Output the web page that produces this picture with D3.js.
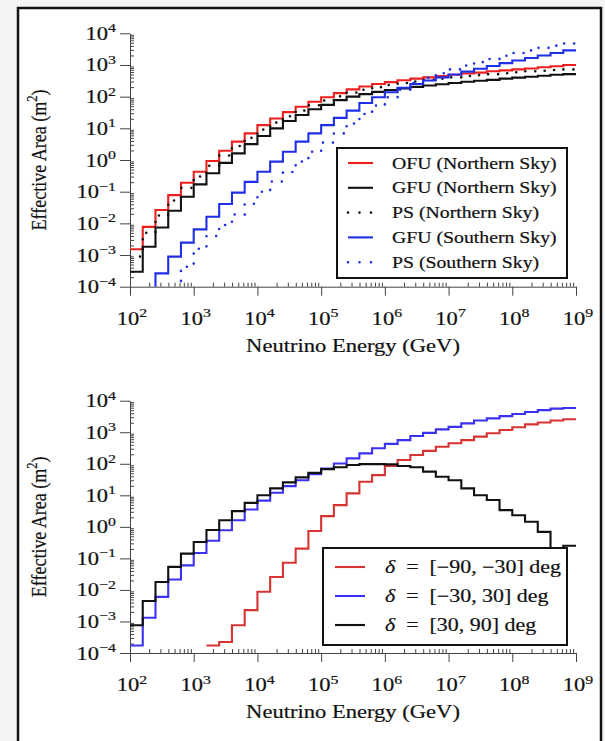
<!DOCTYPE html>
<html>
<head>
<meta charset="utf-8">
<script src="https://cdn.jsdelivr.net/npm/d3@7"></script>
<style>
  body { margin: 0; background: #f3f4f6; }
  text { font-family: "Liberation Serif", "Times New Roman", serif; fill: #111; stroke: #111; stroke-width: 0.2px; }
  .axis path, .axis line { stroke: #444; }
</style>
</head>
<body>
<div id="chart"></div>
<script>

// bin edges as log10(E / GeV), five bins per decade
var binEdgesExp = [2.0, 2.2, 2.4, 2.6, 2.8, 3.0, 3.2, 3.4, 3.6, 3.8,
  4.0, 4.2, 4.4, 4.6, 4.8, 5.0, 5.2, 5.4, 5.6, 5.8,
  6.0, 6.2, 6.4, 6.6, 6.8, 7.0, 7.2, 7.4, 7.6, 7.8,
  8.0, 8.2, 8.4, 8.6, 8.8, 9.0];

var xTickExp = [2, 3, 4, 5, 6, 7, 8, 9];
var yTickExp = [-4, -3, -2, -1, 0, 1, 2, 3, 4];

// upper panel, log10(A_eff / m^2) per bin (-5 = below the axis)
var ofuNorth = [-2.82, -2.11, -1.58, -1.11, -0.72, -0.37, -0.03, 0.29, 0.58, 0.84,
  1.10, 1.31, 1.51, 1.68, 1.84, 1.98, 2.11, 2.23, 2.32, 2.40,
  2.46, 2.52, 2.57, 2.61, 2.65, 2.69, 2.73, 2.76, 2.80, 2.83,
  2.86, 2.89, 2.93, 2.96, 3.00];
var gfuNorth = [-3.53, -2.74, -2.13, -1.60, -1.16, -0.77, -0.42, -0.09, 0.21, 0.50,
  0.76, 1.00, 1.23, 1.42, 1.60, 1.74, 1.89, 2.00, 2.08, 2.15,
  2.21, 2.26, 2.31, 2.35, 2.39, 2.43, 2.47, 2.50, 2.53, 2.57,
  2.60, 2.63, 2.66, 2.69, 2.71];
var psNorth = [-3.05, -2.30, -1.75, -1.28, -0.88, -0.52, -0.18, 0.14, 0.44, 0.70,
  0.96, 1.18, 1.38, 1.56, 1.73, 1.88, 2.01, 2.13, 2.22, 2.30,
  2.37, 2.43, 2.48, 2.53, 2.57, 2.61, 2.65, 2.68, 2.71, 2.74,
  2.77, 2.80, 2.82, 2.84, 2.86];
var gfuSouth = [-5, -5, -3.58, -3.05, -2.61, -2.19, -1.79, -1.39, -1.03, -0.69,
  -0.37, -0.05, 0.26, 0.58, 0.84, 1.10, 1.33, 1.56, 1.80, 1.98,
  2.14, 2.28, 2.40, 2.51, 2.61, 2.70, 2.79, 2.88, 2.97, 3.06,
  3.14, 3.22, 3.30, 3.38, 3.46];
var psSouth = [-5, -5, -5, -5, -3.37, -2.80, -2.40, -2.05, -1.72, -1.38,
  -1.00, -0.68, -0.38, -0.05, 0.26, 0.55, 0.84, 1.15, 1.45, 1.72,
  1.98, 2.22, 2.43, 2.60, 2.74, 2.86, 2.98, 3.09, 3.19, 3.29,
  3.38, 3.46, 3.54, 3.61, 3.68];

// lower panel, by declination band (null = empty bin)
var decSouth = [null, null, null, null, null, null, -3.76, -3.65, -3.12, -2.64,
  -2.06, -1.59, -1.14, -0.69, -0.13, 0.34, 0.69, 1.06, 1.43, 1.64,
  1.93, 2.12, 2.28, 2.41, 2.54, 2.65, 2.75, 2.86, 2.97, 3.07,
  3.16, 3.25, 3.31, 3.37, 3.41];
var decEquator = [-3.76, -2.88, -2.22, -1.67, -1.22, -0.83, -0.44, -0.11, 0.21, 0.55,
  0.83, 1.08, 1.29, 1.48, 1.67, 1.85, 2.01, 2.17, 2.33, 2.49,
  2.63, 2.75, 2.88, 2.98, 3.09, 3.17, 3.28, 3.37, 3.44, 3.51,
  3.58, 3.64, 3.70, 3.75, 3.77];
var decNorth = [-3.12, -2.35, -1.75, -1.27, -0.85, -0.48, -0.10, 0.21, 0.50, 0.76,
  1.00, 1.22, 1.41, 1.57, 1.71, 1.83, 1.89, 1.96, 1.99, 1.99,
  1.98, 1.93, 1.89, 1.75, 1.59, 1.48, 1.22, 1.00, 0.85, 0.53,
  0.37, 0.16, -0.16, -1.30, -0.60];

var topSeries = [
  {label: "OFU (Northern Sky)", values: ofuNorth, color: "#ee1f1f", dotted: false},
  {label: "GFU (Northern Sky)", values: gfuNorth, color: "#111111", dotted: false},
  {label: "PS (Northern Sky)", values: psNorth, color: "#111111", dotted: true},
  {label: "GFU (Southern Sky)", values: gfuSouth, color: "#1f2fe8", dotted: false},
  {label: "PS (Southern Sky)", values: psSouth, color: "#1f2fe8", dotted: true}
];
var bottomSeries = [
  {label: ["\u221290, \u221230"], values: decSouth, color: "#d63333", dotted: false},
  {label: ["\u221230, 30"], values: decEquator, color: "#3a32f0", dotted: false},
  {label: ["30, 90"], values: decNorth, color: "#111111", dotted: false}
];

var SX = 1.22; // the source picture is stretched sideways, text follows it

var svg = d3.select("#chart").append("svg")
  .attr("width", 605).attr("height", 741);

svg.append("rect")
  .attr("x", 18).attr("y", 8).attr("width", 583).attr("height", 760)
  .style("fill", "#fff").style("stroke", "#111").style("stroke-width", 2.5);

var x = d3.scaleLog().domain([1e2, 1e9]).range([130, 576]);

function txt(g, px, py, anchor, size, extra) {
  return g.append("text")
    .attr("transform", "translate(" + px + "," + py + ") scale(" + SX + ",1)" + (extra || ""))
    .attr("text-anchor", anchor)
    .style("font-size", size + "px");
}

function power(sel, e) {
  sel.append("tspan").text("10");
  sel.append("tspan").attr("dy", -7.5).style("font-size", "13px")
    .text(e < 0 ? "\u2212" + (-e) : e);
}

function drawPanel(p, idx) {
  var y = d3.scaleLog().domain([1e-4, 1e4]).range([p.bottom, p.top]);
  var g = svg.append("g");

  var clipId = "clip" + idx;
  g.append("clipPath").attr("id", clipId).append("rect")
    .attr("x", 130).attr("y", p.top - 5)
    .attr("width", 450).attr("height", p.bottom - p.top + 5);

  // minor ticks, inside
  var minorX = [], minorY = [];
  xTickExp.slice(0, -1).forEach(function(e) {
    for (var m = 2; m < 10; m++) minorX.push(m * Math.pow(10, e));
  });
  yTickExp.slice(0, -1).forEach(function(e) {
    for (var m = 2; m < 10; m++) minorY.push(m * Math.pow(10, e));
  });

  g.append("g").attr("class", "axis")
    .attr("transform", "translate(0," + p.bottom + ")")
    .call(d3.axisBottom(x).tickValues(minorX).tickSize(-4).tickFormat(""))
    .call(function(a) { a.select(".domain").remove(); });
  g.append("g").attr("class", "axis")
    .attr("transform", "translate(130,0)")
    .call(d3.axisLeft(y).tickValues(minorY).tickSize(-4).tickFormat(""))
    .call(function(a) { a.select(".domain").remove(); });

  // major ticks, outside
  g.append("g").attr("class", "axis")
    .attr("transform", "translate(0," + p.bottom + ")")
    .call(d3.axisBottom(x).tickValues(xTickExp.map(function(e) { return Math.pow(10, e); }))
      .tickSizeInner(9).tickSizeOuter(0).tickFormat(""));
  g.append("g").attr("class", "axis")
    .attr("transform", "translate(130,0)")
    .call(d3.axisLeft(y).tickValues(yTickExp.map(function(e) { return Math.pow(10, e); }))
      .tickSizeInner(10).tickSizeOuter(0).tickFormat(""));

  xTickExp.forEach(function(e) {
    power(txt(g, x(Math.pow(10, e)) + 2, p.bottom + 38, "middle", 18.5), e);
  });
  yTickExp.forEach(function(e) {
    power(txt(g, 116, y(Math.pow(10, e)) + 6.5, "end", 18.5), e);
  });

  txt(g, 353, p.bottom + 65, "middle", 18.5).text("Neutrino Energy (GeV)");

  var yl = txt(g, 46, (p.top + p.bottom) / 2, "middle", 18, " rotate(-90)");
  yl.append("tspan").text("Effective Area (m");
  yl.append("tspan").attr("dy", -7).style("font-size", "12.5px").text("2");
  yl.append("tspan").attr("dy", 7).text(")");

  // step histograms
  var line = d3.line()
    .x(function(d) { return x(Math.pow(10, d[0])); })
    .y(function(d) { return y(Math.pow(10, d[1])); })
    .curve(d3.curveStepAfter);

  var curves = g.append("g").attr("clip-path", "url(#" + clipId + ")");
  p.series.forEach(function(s) {
    var pts = [];
    s.values.forEach(function(v, i) {
      if (v === null) return;
      if (pts.length === 0 && v <= -4) pts.push([binEdgesExp[i], -6]);
      pts.push([binEdgesExp[i], v]);
    });
    pts.push([binEdgesExp[s.values.length], s.values[s.values.length - 1]]);
    curves.append("path")
      .attr("d", line(pts))
      .style("fill", "none")
      .style("stroke", s.color)
      .style("stroke-width", s.dotted ? 2.6 : 2.1)
      .style("stroke-linecap", s.dotted ? "round" : "butt")
      .style("stroke-dasharray", s.dotted ? "0.01 10" : null);
  });

  // legend
  var L = p.legend;
  g.append("rect")
    .attr("x", L.x).attr("y", L.y).attr("width", L.w).attr("height", L.h)
    .style("fill", "#fff").style("stroke", "#111").style("stroke-width", 2);
  p.series.forEach(function(s, i) {
    var ry = L.y + L.first + i * L.step;
    g.append("line")
      .attr("x1", L.x + L.lineX0).attr("x2", L.x + L.lineX1)
      .attr("y1", ry).attr("y2", ry)
      .style("stroke", s.color)
      .style("stroke-width", s.dotted ? 2.6 : 2.1)
      .style("stroke-linecap", s.dotted ? "round" : "butt")
      .style("stroke-dasharray", s.dotted ? "0.01 11.5" : null);
    var t = txt(g, L.x + L.textX, ry + 5.5, "start", L.size);
    if (idx === 0) {
      t.text(s.label);
    } else {
      t.append("tspan").style("font-style", "italic").text("\u03b4");
      t.append("tspan").text("\u2002=\u2002[" + s.label[0] + "] deg");
    }
  });
}

drawPanel({top: 33.3, bottom: 286.7, series: topSeries,
  legend: {x: 337, y: 148, w: 230, h: 130, first: 15, step: 24.8,
    lineX0: 11, lineX1: 36, textX: 55, size: 16.2}}, 0);
drawPanel({top: 400.7, bottom: 653, series: bottomSeries,
  legend: {x: 323, y: 548, w: 244, h: 97, first: 19, step: 29,
    lineX0: 12, lineX1: 42, textX: 62, size: 18}}, 1);

</script>
</body>
</html>
